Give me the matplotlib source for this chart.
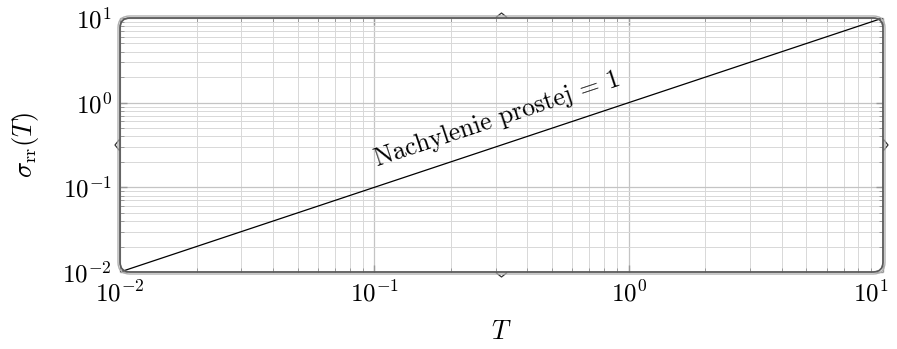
import numpy as np
import matplotlib
matplotlib.use("Agg")
import matplotlib.pyplot as plt
from matplotlib.patches import FancyBboxPatch
from matplotlib.lines import Line2D
from matplotlib.transforms import ScaledTranslation, blended_transform_factory

plt.rcParams["mathtext.fontset"] = "cm"
plt.rcParams["font.family"] = "serif"
plt.rcParams["font.serif"] = ["cmr10", "DejaVu Serif"]
plt.rcParams["axes.formatter.use_mathtext"] = True

# data
T_vals = [1e-2, 1e1]
sigma_vals = [1e-2, 1e1]
x_ticks = [1e-2, 1e-1, 1e0, 1e1]
x_tick_labels = [r"$10^{-2}$", r"$10^{-1}$", r"$10^{0}$", r"$10^{1}$"]
label_pos = (0.31, 0.54)
label_text = "Nachylenie prostej = 1"

W, H = 897, 349
fig = plt.figure(figsize=(W / 100, H / 100), dpi=100)
x0, x1, y0, y1 = 120, 883, 18, 272
ax = fig.add_axes([x0 / W, 1 - y1 / H, (x1 - x0) / W, (y1 - y0) / H])

ax.plot(T_vals, sigma_vals, color="black", lw=0.9, zorder=3)
ax.set_xscale("log")
ax.set_yscale("log")
ax.set_xlim(1e-2, 1e1)
ax.set_ylim(1e-2, 1e1)
# last x label is drawn by hand a bit to the left so it stays inside
ax.set_xticks(x_ticks, labels=x_tick_labels[:-1] + [""])

ax.grid(True, which="major", color="#c4c4c4", lw=0.9)
ax.grid(True, which="minor", color="#d8d8d8", lw=0.7)
ax.tick_params(which="both", direction="in", top=True, right=True, color="#999999")
ax.tick_params(which="major", length=5, width=1.0, labelsize=18, pad=6)
ax.tick_params(which="minor", length=3, width=0.7)
for s in ax.spines.values():
    s.set_visible(False)

ax.set_xlabel(r"$T$", fontsize=19, labelpad=10)
ax.set_ylabel(r"$\sigma_{\mathrm{rr}}(T)$", fontsize=19, labelpad=15)

tr = blended_transform_factory(ax.transData, ax.transAxes) + \
    ScaledTranslation(-0.12, -6 / 72, fig.dpi_scale_trans)
ax.text(x_ticks[-1], 0, x_tick_labels[-1], transform=tr, fontsize=18,
        ha="center", va="top")

# slope label along the line
ang = np.degrees(np.arctan2((y1 - y0) / 3, (x1 - x0) / 3))
ax.text(label_pos[0], label_pos[1], label_text, fontsize=18.5, rotation=ang,
        rotation_mode="anchor", ha="center", va="baseline", zorder=4)

# rounded double frame
asp = W / H
for lw, col, pad in [(1.3, "#5a5a5a", 0.0), (1.0, "#b0b0b0", 2.0 / W)]:
    fr = FancyBboxPatch((x0 / W, 1 - y1 / H), (x1 - x0) / W, (y1 - y0) / H,
                        boxstyle=f"round,pad={pad},rounding_size={0.011 + pad}",
                        mutation_aspect=asp, transform=fig.transFigure,
                        fill=False, lw=lw, ec=col, zorder=10)
    fig.patches.append(fr)

# little brace notches at the middle of each side
dx, dy = 5 / (x1 - x0), 5 / (y1 - y0)
ex, ey = 5 / (x1 - x0), 5 / (y1 - y0)
notches = [
    ([0.5 - dx, 0.5, 0.5 + dx], [-1 / (y1 - y0), -dy, -1 / (y1 - y0)]),
    ([0.5 - dx, 0.5, 0.5 + dx], [1 + 1 / (y1 - y0), 1 + dy, 1 + 1 / (y1 - y0)]),
    ([-1 / (x1 - x0), -ex, -1 / (x1 - x0)], [0.5 - ey, 0.5, 0.5 + ey]),
    ([1 + 1 / (x1 - x0), 1 + ex, 1 + 1 / (x1 - x0)], [0.5 - ey, 0.5, 0.5 + ey]),
]
for xs, ys in notches:
    ax.add_line(Line2D(xs, ys, transform=ax.transAxes, color="#333333",
                       lw=0.9, clip_on=False, zorder=11))

fig.savefig("out.png", dpi=100)
